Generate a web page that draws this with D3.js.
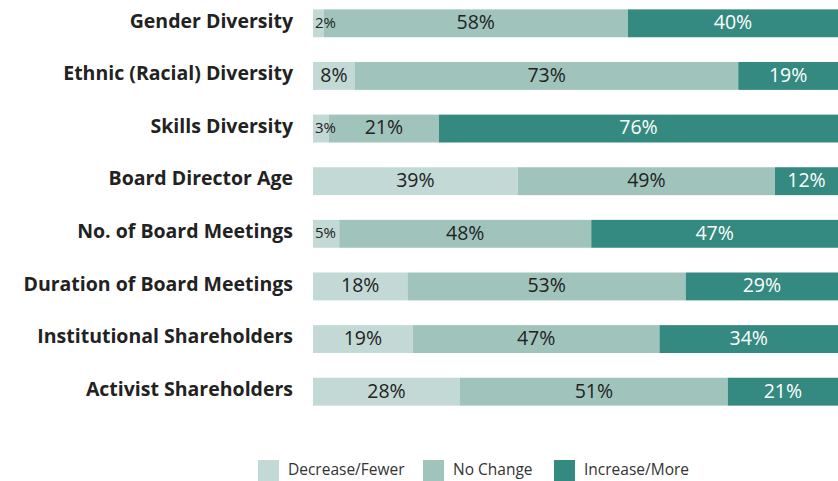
<!DOCTYPE html>
<html><head><meta charset="utf-8">
<script src="https://cdn.jsdelivr.net/npm/d3@7"></script>
<style>body{margin:0;background:#fff}</style>
</head><body>
<svg id="c" width="838" height="481"></svg>
<script>
const categories = ["Gender Diversity","Ethnic (Racial) Diversity","Skills Diversity","Board Director Age","No. of Board Meetings","Duration of Board Meetings","Institutional Shareholders","Activist Shareholders"];
const decrease = [2,8,3,39,5,18,19,28];
const noChange = [58,73,21,49,48,53,47,51];
const increase = [40,19,76,12,47,29,34,21];
const seriesNames = ["Decrease/Fewer","No Change","Increase/More"];
const colors = ["#c3d9d5","#a0c4bc","#348a80"];

const svg = d3.select("#c");
const font = "'Open Sans', sans-serif";
const x = d3.scaleLinear().domain([0,100]).range([313,838]);
const y = d3.scaleBand().domain(categories).range([-3,418]).paddingInner(0.47).paddingOuter(0.235);

const rows = categories.map((c,i)=>({c, v:[decrease[i],noChange[i],increase[i]]}));
rows.forEach(r=>{
  let acc=0;
  r.segs = r.v.map((v,k)=>{const s={k,v,x0:acc,x1:acc+v,c:r.c}; acc+=v; return s;});
});

const g = svg.append("g");
rows.forEach(r=>{
  g.selectAll(null).data(r.segs).enter().append("rect")
    .attr("x",d=>x(d.x0)).attr("width",d=>x(d.x1)-x(d.x0))
    .attr("y",y(r.c)).attr("height",y.bandwidth())
    .attr("fill",d=>colors[d.k]);
  g.selectAll(null).data(r.segs).enter().append("text")
    .attr("x",d=> d.v<6 ? x(d.x0)+2 : (x(d.x0)+x(d.x1))/2)
    .attr("text-anchor",d=> d.v<6 ? "start":"middle")
    .attr("y",y(r.c)+y.bandwidth()/2 - 1)
    .attr("dy","0.35em")
    .attr("font-family",font)
    .attr("font-size",d=>d.v<6?15:19.5)
    .attr("fill",d=>d.k===2?"#fff":"#222")
    .text(d=>d.v+"%");
});

const yAxis = d3.axisLeft(y).tickSize(0).tickPadding(0);
const ax = svg.append("g").attr("transform","translate(293,-2)").call(yAxis);
ax.select(".domain").remove();
ax.selectAll("text").attr("font-family",font).attr("font-size",19.5).attr("font-weight","bold").attr("fill","#222");

const legendX = [258,423,554];
const lg = svg.append("g");
seriesNames.forEach((n,i)=>{
  lg.append("rect").attr("x",legendX[i]).attr("y",460).attr("width",21).attr("height",21).attr("fill",colors[i]);
  lg.append("text").attr("x",legendX[i]+30).attr("y",469.5).attr("dy","0.35em")
    .attr("font-family",font).attr("font-size",15.5).attr("fill","#333").text(n);
});
</script>
</body></html>
